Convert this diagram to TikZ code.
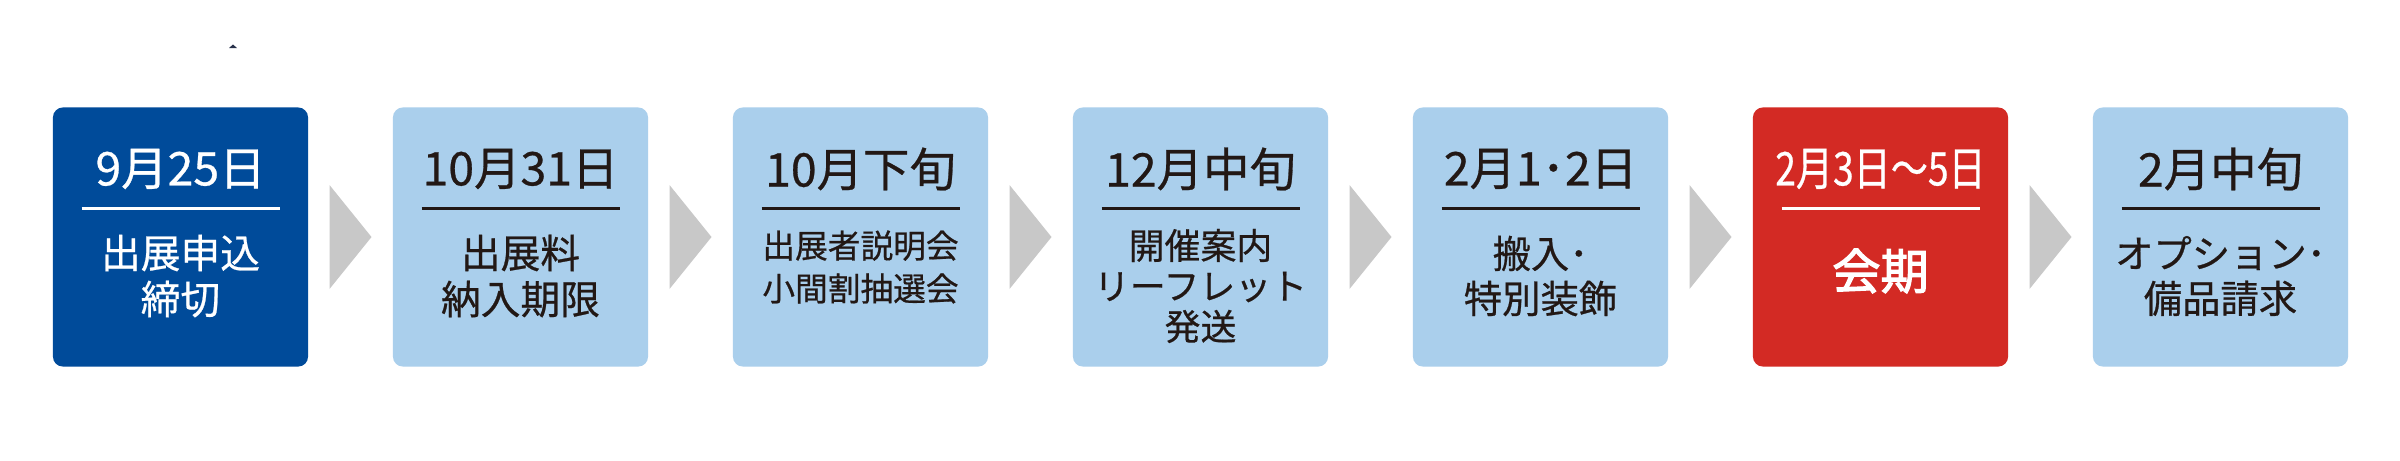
\documentclass[tikz,border=0pt]{standalone}
\usepackage{fontspec}
\setmainfont{Noto Sans CJK JP}[FakeBold=0.6]
\newfontfamily\cjkcond{Noto Sans CJK JP}[FakeStretch=0.8,FakeBold=0.6]
\newfontfamily\cjkbold{Noto Sans CJK JP}[FakeBold=2.5]
\usetikzlibrary{calc}
\definecolor{navybox}{RGB}{0,75,154}
\definecolor{lightbox}{RGB}{170,207,236}
\definecolor{redbox}{RGB}{211,42,36}
\definecolor{arrowgray}{RGB}{200,200,200}
\definecolor{ink}{RGB}{34,24,21}
\definecolor{speck}{RGB}{40,50,75}
\tikzset{
  stage/.style={rounded corners=0.1cm, minimum width=2.55cm, minimum height=2.59cm, inner sep=0pt, draw=none},
  navyfill/.style={stage, fill=navybox},
  lightfill/.style={stage, fill=lightbox},
  redfill/.style={stage, fill=redbox},
  datetext/.style={font=\fontsize{13.2}{15}\selectfont, inner sep=0pt},
  rulestyle/.style={line width=0.85pt},
  bodyA/.style={font=\fontsize{11.3}{13.1}\selectfont, align=center, inner sep=0pt},
  bodyE/.style={font=\fontsize{10.9}{12.8}\selectfont, align=center, inner sep=0pt},
  bodyB/.style={font=\fontsize{9.3}{12.2}\selectfont, align=center, inner sep=0pt},
  bodyC/.style={font=\fontsize{10.2}{11.5}\selectfont, align=center, inner sep=0pt},
  bodyD/.style={font=\cjkbold\fontsize{13.7}{15}\selectfont, align=center, inner sep=0pt},
  gapfill/.style={fill=arrowgray},
}
% #1 name, #2 x, #3 box style, #4 ink colour, #5 date, #6 body style, #7 body y, #8 body
\newcommand\stagebox[8]{%
  \node[#3] (#1) at (#2,237) {};
  \node[datetext, text=#4] (#1-date) at (#2,169) {#5};
  \draw[rulestyle, draw=#4] (#2-99,208) -- (#2+99,208);
  \node[#6, text=#4] (#1-body) at (#2,#7) {#8};
}
\newcommand\gapmark[2]{%
  \coordinate (#1-#2) at ($(#1.east)!0.5!(#2.west)$);
  \fill[gapfill] ($(#1-#2)+(-21,-52)$) -- ($(#1-#2)+(21,0)$) -- ($(#1-#2)+(-21,52)$) -- cycle;
}
\begin{document}
\begin{tikzpicture}[x=0.01cm,y=-0.01cm]
\useasboundingbox[fill=white] (0,0) rectangle (2400,460);
\fill[speck] (229,48) -- (233,44.5) -- (237,48) -- cycle;
\stagebox{b1}{180.5}{navyfill}{white}{9月25日}{bodyA}{276}{出展申込\\締切}
\stagebox{b2}{520.5}{lightfill}{ink}{10月31日}{bodyA}{276}{出展料\\納入期限}
\stagebox{b3}{860.5}{lightfill}{ink}{10月下旬}{bodyB}{267}{出展者説明会\\小間割抽選会}
\stagebox{b4}{1200.5}{lightfill}{ink}{12月中旬}{bodyC}{286}{開催案内\\リーフレット\\発送}
\stagebox{b5}{1540.5}{lightfill}{ink}{2月1･2日}{bodyE}{276}{搬入･\\特別装飾}
\stagebox{b6}{1880.5}{redfill}{white}{{\cjkcond 2月3日～5日}}{bodyD}{271}{会期}
\stagebox{b7}{2220.5}{lightfill}{ink}{2月中旬}{bodyE}{276}{オプション･\\備品請求}
\gapmark{b1}{b2}
\gapmark{b2}{b3}
\gapmark{b3}{b4}
\gapmark{b4}{b5}
\gapmark{b5}{b6}
\gapmark{b6}{b7}
\end{tikzpicture}
\end{document}
